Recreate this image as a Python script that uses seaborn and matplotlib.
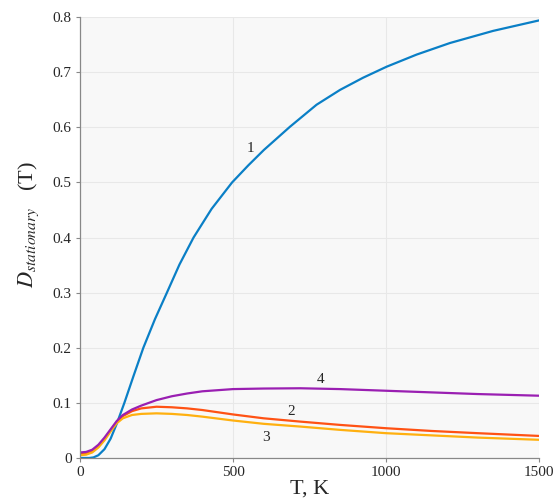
import pandas as pd
import matplotlib
matplotlib.use("Agg")
import matplotlib.pyplot as plt
import seaborn as sns

# curve 1 (blue)
t1 = [0, 30, 44, 60, 80, 100, 120, 145, 175, 207, 245, 284, 325, 371, 430, 497, 550,
      601, 686, 773, 850, 925, 1002, 1100, 1209, 1350, 1500]
d1 = [0.0, 0.0, 0.001, 0.005, 0.016, 0.035, 0.062, 0.1, 0.149, 0.2, 0.252, 0.3, 0.351,
      0.4, 0.452, 0.5, 0.531, 0.559, 0.601, 0.641, 0.668, 0.69, 0.71, 0.732, 0.753,
      0.775, 0.794]

# curves 2, 3, 4 share one temperature grid
t = [0, 20, 40, 60, 80, 100, 120, 140, 170, 200, 250, 300, 350, 400, 500, 600, 720,
     850, 1000, 1150, 1300, 1500]
d2 = [0.007, 0.008, 0.012, 0.021, 0.034, 0.050, 0.065, 0.076, 0.085, 0.090, 0.093,
      0.092, 0.090, 0.087, 0.079, 0.072, 0.066, 0.060, 0.054, 0.049, 0.045, 0.040]
d3 = [0.005, 0.006, 0.010, 0.019, 0.032, 0.048, 0.063, 0.072, 0.078, 0.080, 0.081,
      0.080, 0.078, 0.075, 0.068, 0.062, 0.057, 0.051, 0.045, 0.041, 0.037, 0.033]
d4 = [0.010, 0.011, 0.015, 0.024, 0.037, 0.052, 0.067, 0.078, 0.088, 0.095, 0.105,
      0.112, 0.117, 0.121, 0.125, 0.126, 0.1265, 0.125, 0.122, 0.119, 0.116, 0.113]

labels = ["1", "2", "3", "4"]
label_pos = [(557, 0.562), (691, 0.084), (609, 0.037), (786, 0.143)]
colors = ["#0a7fc6", "#ff5214", "#ffb010", "#9a1fb2"]

df = pd.concat([
    pd.DataFrame({"T": t1, "D": d1, "curve": "1"}),
    pd.DataFrame({"T": t, "D": d2, "curve": "2"}),
    pd.DataFrame({"T": t, "D": d3, "curve": "3"}),
    pd.DataFrame({"T": t, "D": d4, "curve": "4"}),
])

sns.set_style("whitegrid", {"axes.facecolor": "#f8f8f8", "grid.color": "#e8e8e8",
                            "axes.edgecolor": "#888888"})
plt.rcParams["font.family"] = ["Liberation Serif", "DejaVu Serif"]
plt.rcParams["mathtext.fontset"] = "stix"

fig, ax = plt.subplots(figsize=(5.54, 5.03), dpi=100)
fig.subplots_adjust(left=0.1444, right=0.973, bottom=0.0895, top=0.966)

sns.lineplot(data=df, x="T", y="D", hue="curve", palette=colors, lw=1.6,
             legend=False, ax=ax)

for name, (x, y) in zip(labels, label_pos):
    ax.text(x, y, name, fontsize=11, ha="center", va="center")

ax.set_xlim(0, 1500)
ax.set_ylim(0, 0.8)
ax.set_xticks([0, 500, 1000, 1500])
ax.set_yticks([0, 0.1, 0.2, 0.3, 0.4, 0.5, 0.6, 0.7, 0.8])
ax.set_yticklabels(["0", "0.1", "0.2", "0.3", "0.4", "0.5", "0.6", "0.7", "0.8"])
ax.tick_params(axis="both", labelsize=11, length=3, direction="out", color="#888888",
               left=True, bottom=True, pad=3)
for s in ["top", "right"]:
    ax.spines[s].set_visible(False)
for s in ["left", "bottom"]:
    ax.spines[s].set_linewidth(0.9)

ax.set_xlabel("T, K", fontsize=16)
ax.xaxis.set_label_coords(0.5, -0.05)
ax.set_ylabel(r"$D_{stationary}$   (T)", fontsize=16)
ax.yaxis.set_label_coords(-0.085, 0.53)

fig.savefig("out.png", dpi=100)
